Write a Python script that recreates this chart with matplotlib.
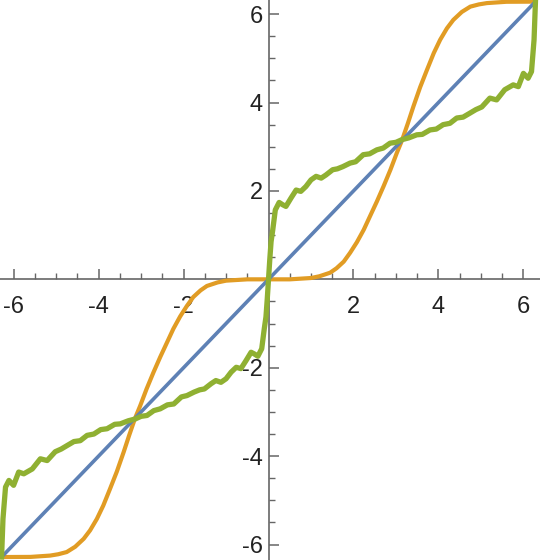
import numpy as np
import matplotlib
matplotlib.use('Agg')
import matplotlib.pyplot as plt
from matplotlib.ticker import MultipleLocator

# values
blue_x = [-6.283, 6.283]
blue_y = [-6.283, 6.283]

orange_x = [-6.283, -5.6, -5.14, -4.95, -4.75, -4.55, -4.35, -4.2, -4.04, -3.89, -3.73, -3.57, -3.41, -3.28,
            -3.14, -3.02, -2.87, -2.71, -2.55, -2.39, -2.24, -2.08, -1.92, -1.77, -1.6, -1.45, -1.2, -1.0, -0.5,
            0.0, 0.5, 1.0, 1.2, 1.45, 1.6, 1.77, 1.92, 2.08, 2.24, 2.39, 2.55, 2.71, 2.87, 3.02,
            3.14, 3.28, 3.41, 3.57, 3.73, 3.89, 4.04, 4.2, 4.35, 4.55, 4.75, 4.95, 5.14, 5.6, 6.283]
orange_y = [-6.283, -6.28, -6.25, -6.22, -6.17, -6.05, -5.87, -5.68, -5.42, -5.12, -4.74, -4.35, -3.91, -3.53,
            -3.14, -2.86, -2.48, -2.11, -1.76, -1.43, -1.12, -0.84, -0.6, -0.4, -0.25, -0.15, -0.07, -0.03, 0.0,
            0.0, 0.0, 0.03, 0.07, 0.15, 0.25, 0.4, 0.6, 0.84, 1.12, 1.43, 1.76, 2.11, 2.48, 2.86,
            3.14, 3.53, 3.91, 4.35, 4.74, 5.12, 5.42, 5.68, 5.87, 6.05, 6.17, 6.22, 6.25, 6.28, 6.283]

green_x = [-6.283, -6.25, -6.19, -6.11, -6.0, -5.88, -5.76, -5.56, -5.37, -5.21, -5.02, -4.88, -4.74, -4.58,
           -4.43, -4.27, -4.11, -3.95, -3.8, -3.62, -3.49, -3.3, -3.14, -3.0, -2.86, -2.7, -2.55, -2.38,
           -2.23, -2.05, -1.92, -1.75, -1.62, -1.51, -1.35, -1.24, -1.12, -1.0, -0.88, -0.76, -0.65, -0.53,
           -0.41, -0.33, -0.25, -0.16, -0.1, -0.06, -0.03,
           0.0, 0.03, 0.06, 0.1, 0.16, 0.25, 0.33, 0.41, 0.53, 0.65, 0.76, 0.88, 1.0, 1.12, 1.24, 1.35,
           1.51, 1.62, 1.75, 1.92, 2.05, 2.23, 2.38, 2.55, 2.7, 2.86, 3.0, 3.14, 3.3, 3.49, 3.62, 3.8,
           3.95, 4.11, 4.27, 4.43, 4.58, 4.74, 4.88, 5.02, 5.21, 5.37, 5.56, 5.76, 5.88, 6.0, 6.11, 6.19,
           6.25, 6.283]
green_y = [-6.283, -5.42, -4.7, -4.55, -4.66, -4.36, -4.4, -4.29, -4.06, -4.1, -3.9, -3.84, -3.76, -3.67,
           -3.65, -3.53, -3.5, -3.4, -3.38, -3.28, -3.27, -3.2, -3.16, -3.1, -3.08, -2.97, -2.93, -2.84,
           -2.82, -2.66, -2.63, -2.55, -2.5, -2.48, -2.36, -2.29, -2.33, -2.25, -2.1, -1.99, -2.02, -1.84,
           -1.65, -1.69, -1.74, -1.57, -1.12, -0.85, -0.45,
           0.0, 0.45, 0.85, 1.12, 1.57, 1.74, 1.69, 1.65, 1.84, 2.02, 1.99, 2.1, 2.25, 2.33, 2.29, 2.36,
           2.48, 2.5, 2.55, 2.63, 2.66, 2.82, 2.84, 2.93, 2.97, 3.08, 3.1, 3.16, 3.2, 3.27, 3.28, 3.38,
           3.4, 3.5, 3.53, 3.65, 3.67, 3.76, 3.84, 3.9, 4.1, 4.06, 4.29, 4.4, 4.36, 4.66, 4.55, 4.7,
           5.42, 6.283]

tick_vals = [-6, -4, -2, 2, 4, 6]
tick_labels = ['-6', '-4', '-2', '2', '4', '6']

plt.rcParams['font.family'] = ['Liberation Sans', 'DejaVu Sans']
plt.rcParams['axes.unicode_minus'] = False

fig = plt.figure(figsize=(5.4, 5.6), dpi=100)
ax = fig.add_axes([0, 0, 1, 1])

ax.plot(blue_x, blue_y, color='#5E81B5', lw=2.6, solid_capstyle='butt', zorder=3)
ax.plot(orange_x, orange_y, color='#E19C24', lw=3.0, solid_joinstyle='round', zorder=2)
ax.plot(green_x, green_y, color='#8FB032', lw=3.8, solid_joinstyle='round', zorder=4)

ax.set_xlim(-6.32, 6.39)
ax.set_ylim(-6.35, 6.32)

for s in ['top', 'right']:
    ax.spines[s].set_visible(False)
ax.spines['left'].set_position(('data', 0))
ax.spines['bottom'].set_position(('data', 0))
for s in ['left', 'bottom']:
    ax.spines[s].set_color('#666666')
    ax.spines[s].set_linewidth(1.2)
    ax.spines[s].set_zorder(1)

ax.set_xticks(tick_vals)
ax.set_xticklabels(tick_labels)
ax.set_yticks(tick_vals)
ax.set_yticklabels(tick_labels)
ax.xaxis.set_minor_locator(MultipleLocator(0.5))
ax.yaxis.set_minor_locator(MultipleLocator(0.5))
ax.tick_params(which='major', direction='in', length=7, width=1.1, color='#666666',
               labelsize=17, labelcolor='#222222')
ax.tick_params(which='minor', direction='in', length=4, width=1.0, color='#666666')
ax.tick_params(axis='x', pad=12)
ax.tick_params(axis='y', pad=4)

fig.savefig('out.png', dpi=100)
